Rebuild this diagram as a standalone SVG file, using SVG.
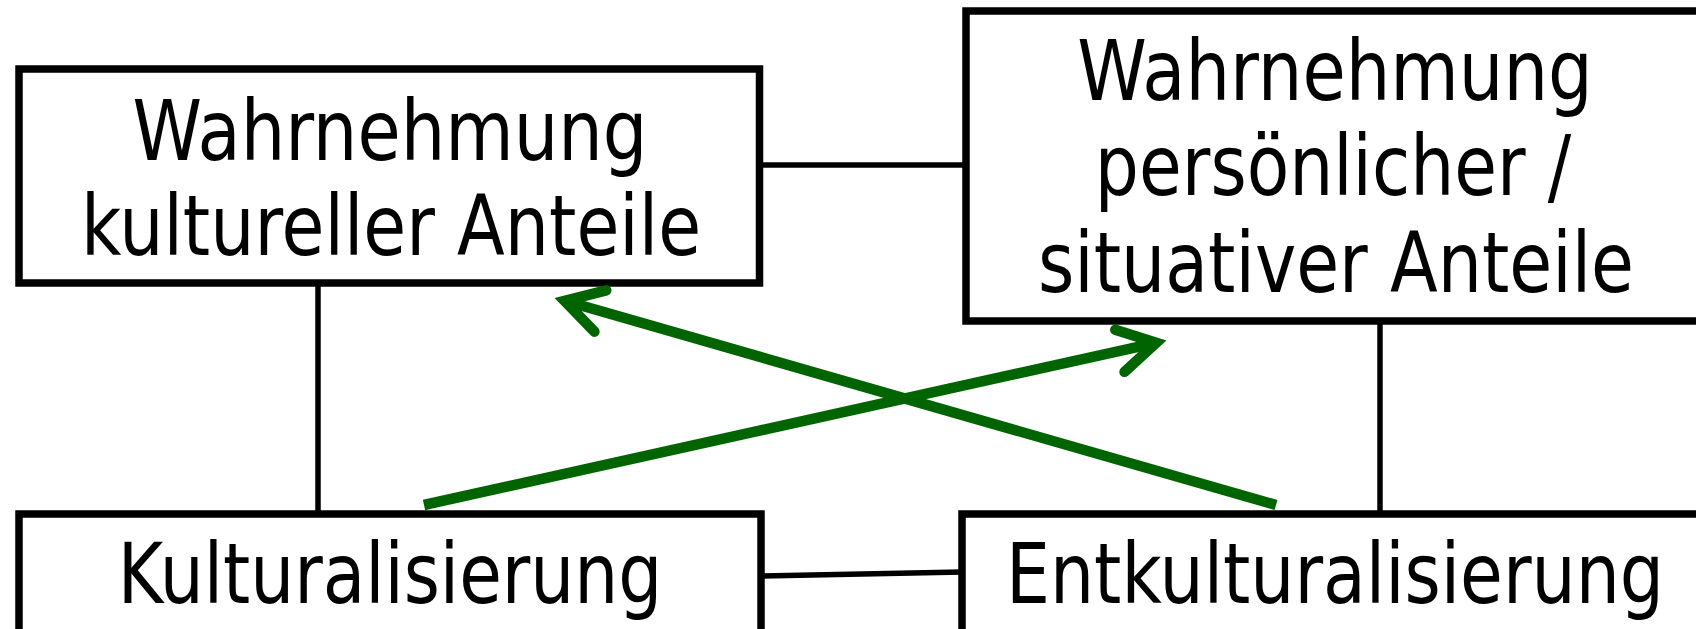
<svg xmlns="http://www.w3.org/2000/svg" width="1696" height="629" viewBox="0 0 1696 629">
  <style>
    .box { fill: #ffffff; stroke: #000000; stroke-width: 7.5; }
    .label { font-family: "DejaVu Sans", "Verdana", sans-serif; font-size: 83px; fill: #000000; text-anchor: middle; }
    .link { stroke: #000000; stroke-width: 5.5; fill: none; }
    .flow { stroke: #006400; stroke-width: 10.5; fill: none; }
  </style>
  <defs>
    <marker id="chevron" markerUnits="userSpaceOnUse" viewBox="-60 -40 80 80" refX="0" refY="0" markerWidth="80" markerHeight="80" orient="auto" overflow="visible">
      <path d="M -37.2 -21.5 L 0 0 L -37.2 21.5" fill="none" stroke="#006400" stroke-width="10.5" stroke-linecap="round" stroke-linejoin="miter" stroke-miterlimit="10"/>
    </marker>
  </defs>

  <rect width="1696" height="629" fill="#ffffff"/>

  <!-- plain links between the four fields -->
  <g id="links">
    <line class="link" x1="759" y1="165" x2="966" y2="165"/>
    <line class="link" x1="318" y1="283" x2="318" y2="514"/>
    <line class="link" x1="1380" y1="321" x2="1380" y2="514"/>
    <line class="link" x1="761" y1="576" x2="962" y2="572"/>
  </g>

  <!-- labels are narrowed horizontally to a condensed width -->
  <g id="node-kulturelle">
    <rect class="box" x="19" y="69" width="740.5" height="214"/>
    <text class="label" transform="translate(390 160) scale(0.847 1)">Wahrnehmung</text>
    <text class="label" transform="translate(391 255) scale(0.841 1)">kultureller Anteile</text>
  </g>

  <g id="node-persoenliche">
    <rect class="box" x="966" y="11" width="760" height="310"/>
    <text class="label" transform="translate(1335 100) scale(0.848 1)">Wahrnehmung</text>
    <text class="label" transform="translate(1333 195) scale(0.838 1)">persönlicher /</text>
    <text class="label" transform="translate(1336 292) scale(0.841 1)">situativer Anteile</text>
  </g>

  <g id="node-kulturalisierung">
    <rect class="box" x="19" y="514" width="742" height="140"/>
    <text class="label" transform="translate(390 603) scale(0.836 1)">Kulturalisierung</text>
  </g>

  <g id="node-entkulturalisierung">
    <rect class="box" x="962" y="514" width="764" height="140"/>
    <text class="label" transform="translate(1335 603) scale(0.839 1)">Entkulturalisierung</text>
  </g>

  <!-- crossing arrows -->
  <g id="connectors">
    <line class="flow" x1="424" y1="505" x2="1156.2" y2="342.8" marker-end="url(#chevron)"/>
    <line class="flow" x1="1276" y1="505" x2="564.6" y2="300.8" marker-end="url(#chevron)"/>
  </g>
</svg>
